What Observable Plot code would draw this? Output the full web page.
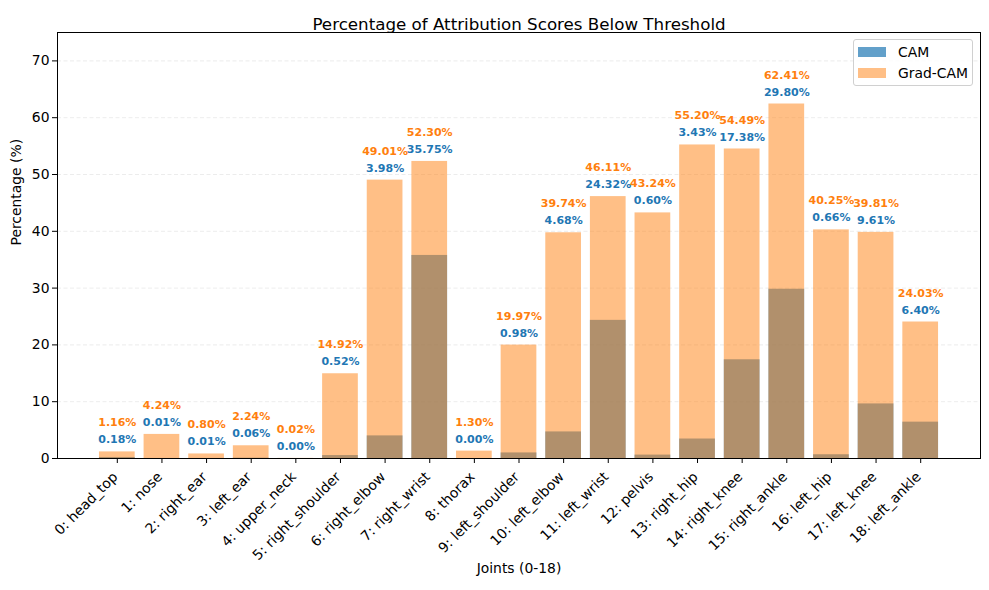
<!DOCTYPE html>
<html>
<head>
<meta charset="utf-8">
<script src="https://cdn.jsdelivr.net/npm/d3@7"></script>
<script src="https://cdn.jsdelivr.net/npm/@observablehq/plot@0.6"></script>
<style>
  html, body { margin: 0; padding: 0; background: #fff; }
  #wrap { position: relative; width: 989px; height: 590px; font-family: "DejaVu Sans", sans-serif; }
  #legend { position: absolute; left: 853px; top: 39px; width: 118px; height: 45px; border: 1px solid #d0d0d0; border-radius: 3px; background: rgba(255,255,255,0.8); font-size: 13.9px; color: #000; }
  .item { position: absolute; left: 4px; height: 14px; display: flex; align-items: center; }
  .sw { width: 28px; height: 10px; margin-right: 12px; }
</style>
</head>
<body>
<div id="wrap">
  <div id="chart"></div>
  <div id="legend">
    <div class="item" style="top:5px"><div class="sw" style="background:#1f77b4;opacity:0.7"></div><span>CAM</span></div>
    <div class="item" style="top:26px"><div class="sw" style="background:#ff7f0e;opacity:0.5"></div><span>Grad-CAM</span></div>
  </div>
</div>
<script>
const joints = ["0: head_top", "1: nose", "2: right_ear", "3: left_ear", "4: upper_neck", "5: right_shoulder", "6: right_elbow", "7: right_wrist", "8: thorax", "9: left_shoulder", "10: left_elbow", "11: left_wrist", "12: pelvis", "13: right_hip", "14: right_knee", "15: right_ankle", "16: left_hip", "17: left_knee", "18: left_ankle"];
const camValues = [0.18, 0.01, 0.01, 0.06, 0.00, 0.52, 3.98, 35.75, 0.00, 0.98, 4.68, 24.32, 0.60, 3.43, 17.38, 29.80, 0.66, 9.61, 6.40];
const gradcamValues = [1.16, 4.24, 0.80, 2.24, 0.02, 14.92, 49.01, 52.30, 1.30, 19.97, 39.74, 46.11, 43.24, 55.20, 54.49, 62.41, 40.25, 39.81, 24.03];
const yTicks = [0, 10, 20, 30, 40, 50, 60, 70];

const rows = joints.map((j, i) => ({
  joint: j,
  cam: camValues[i],
  grad: gradcamValues[i],
  top: Math.max(camValues[i], gradcamValues[i])
}));

const chart = Plot.plot({
  width: 989,
  height: 590,
  marginLeft: 57,
  marginRight: 9,
  marginTop: 32,
  marginBottom: 132,
  style: { fontFamily: "DejaVu Sans, sans-serif", fontSize: "13.9px", color: "#000", background: "#fff" },
  x: { type: "band", domain: joints, paddingInner: 0.2, paddingOuter: 0.94, round: false, label: null },
  y: { domain: [0, 75], label: null },
  marks: [
    Plot.gridY(yTicks, { stroke: "#b0b0b0", strokeOpacity: 0.3, strokeDasharray: "4,2.5", strokeWidth: 0.8 }),
    Plot.barY(rows, { x: "joint", y: "cam", fill: "#1f77b4", fillOpacity: 0.7 }),
    Plot.barY(rows, { x: "joint", y: "grad", fill: "#ff7f0e", fillOpacity: 0.5 }),
    Plot.text(rows, { x: "joint", y: "top", text: d => d.cam.toFixed(2) + "%", dy: -12, fill: "#1f77b4", fontWeight: "bold", fontSize: 11 }),
    Plot.text(rows, { x: "joint", y: "top", text: d => d.grad.toFixed(2) + "%", dy: -29, fill: "#ff7f0e", fontWeight: "bold", fontSize: 11 }),
    Plot.axisY({ ticks: yTicks, tickSize: 5, tickPadding: 3, tickFormat: () => "", label: null }),
    Plot.text(yTicks, { y: d => d, frameAnchor: "left", dx: -8, textAnchor: "end", fontSize: 13.9, fill: "#000" }),
    Plot.axisX({ tickSize: 5, tickFormat: () => "", label: null }),
    Plot.text(joints, { x: d => d, frameAnchor: "bottom", dx: -2, dy: 16, rotate: -45, textAnchor: "end", lineAnchor: "middle", fontSize: 13.9, fill: "#000" }),
    Plot.frame({ stroke: "#000", strokeWidth: 1 }),
    Plot.text(["Percentage of Attribution Scores Below Threshold"], { frameAnchor: "top", dy: -14, fontSize: 16.7, fill: "#000" }),
    Plot.text(["Percentage (%)"], { frameAnchor: "left", dx: -41, rotate: -90, fontSize: 13.9, fill: "#000" }),
    Plot.text(["Joints (0-18)"], { frameAnchor: "bottom", dy: 114, fontSize: 13.9, fill: "#000" })
  ]
});
document.getElementById("chart").appendChild(chart);
</script>
</body>
</html>
